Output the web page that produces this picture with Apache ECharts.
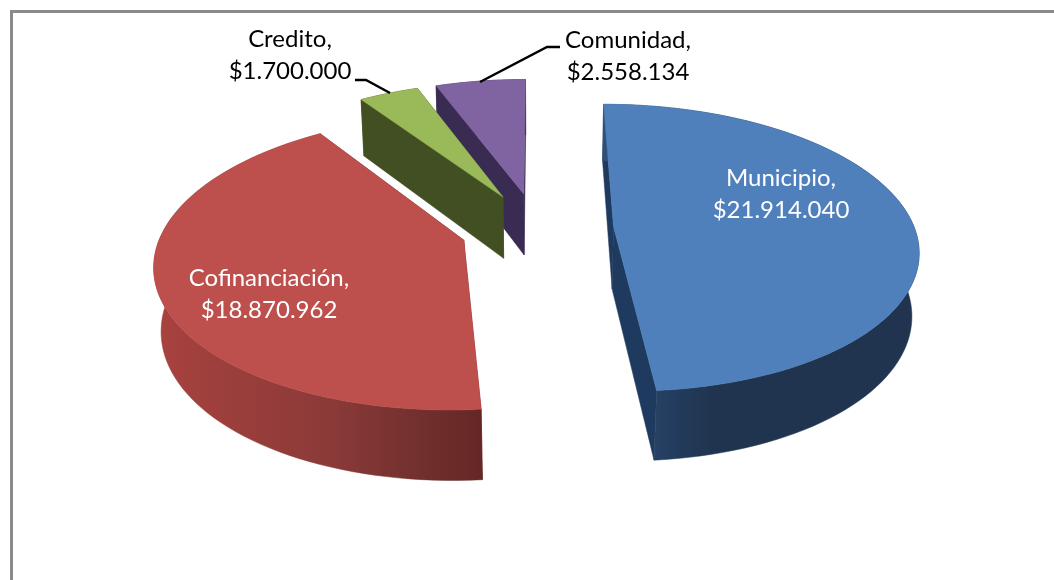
<!DOCTYPE html>
<html><head><meta charset="utf-8">
<style>html,body{margin:0;padding:0;background:#fff}#c{width:1054px;height:580px}</style>
<script src="https://cdn.jsdelivr.net/npm/echarts@6/dist/echarts.min.js"></script>
</head><body><div id="c"></div>
<script>
const categories = ['Municipio', 'Cofinanciación', 'Credito', 'Comunidad'];
const seriesValues = [21914040, 18870962, 1700000, 2558134];

const topColors = ['#4f80bb', '#bd4f4c', '#9aba59', '#8064a2'];
const cutColors = ['#1e3a5e', '#6e2a28', '#414f23', '#3a2b52'];
const wallStops = [
  [[0, '#2f5079'], [0.2, '#243e60'], [0.35, '#20344f'], [1, '#20344f']],
  [[0, '#a8423f'], [0.55, '#8a3a38'], [0.8, '#72302e'], [1, '#652725']],
  [[0, '#414f23'], [1, '#414f23']],
  [[0, '#3a2b52'], [1, '#3a2b52']]
];
const drawOrder = [1, 0, 3, 2];
const labelColors = ['#ffffff', '#ffffff', '#000000', '#000000'];
const labelCenters = [[781, 194], [269, 294], [290, 55], [628, 56]];
const leaders = [null, null, [[355, 80], [366, 80], [390, 93]], [[560, 47], [547, 47], [480, 82]]];

const CAM = { cx: 537, cy: 228, f: 1790, d: 5.95, pitch: 27.9 * Math.PI / 180 };
const EXPLODE = 0.255, HEIGHT = 0.24, STEP = 2;
const sinP = Math.sin(CAM.pitch), cosP = Math.cos(CAM.pitch);
const total = seriesValues.reduce((a, b) => a + b, 0);

function project(X, Z, H) {
  const depth = CAM.d - Z * cosP - H * sinP;
  return [CAM.cx + CAM.f * X / depth, CAM.cy + CAM.f * (Z * sinP - H * cosP) / depth];
}
function fmt(v) { return '$' + String(v).replace(/\B(?=(\d{3})+$)/g, '.'); }

function renderItem(params, api) {
  const i = params.dataIndex;
  const value = api.value(0);
  let before = 0;
  for (let k = 0; k < i; k++) before += seriesValues[k];
  const a0 = before / total * 2 * Math.PI, a1 = (before + value) / total * 2 * Math.PI;
  const mid = (a0 + a1) / 2;
  const ox = EXPLODE * Math.sin(mid), oz = -EXPLODE * Math.cos(mid);
  const rim = (a, H) => project(ox + Math.sin(a), oz - Math.cos(a), H);
  const apex = H => project(ox, oz, H);
  const n = Math.max(2, Math.ceil((a1 - a0) / (STEP * Math.PI / 180)));
  const arc = [], arcB = [];
  for (let k = 0; k <= n; k++) {
    const a = a0 + (a1 - a0) * k / n;
    arc.push(rim(a, 0));
    arcB.push(rim(a, -HEIGHT));
  }
  const xs = arc.concat(arcB).map(p => p[0]);
  const wallFill = new echarts.graphic.LinearGradient(Math.min(...xs), 0, Math.max(...xs), 0,
    wallStops[i].map(s => ({ offset: s[0], color: s[1] })), true);
  const base = drawOrder.indexOf(i) * 10;
  const poly = (points, fill, z2) => ({ type: 'polygon', z2, shape: { points }, style: { fill, stroke: fill, lineWidth: 0.5 } });
  const children = [
    poly([apex(0), arc[0], arcB[0], apex(-HEIGHT)], cutColors[i], base + 1),
    poly([apex(0), arc[n], arcB[n], apex(-HEIGHT)], cutColors[i], base + 2),
    poly(arc.concat(arcB.slice().reverse()), wallFill, base + 3),
    poly([apex(0)].concat(arc), topColors[i], base + 4)
  ];
  if (leaders[i]) children.push({ type: 'polyline', z2: 100, shape: { points: leaders[i] }, style: { fill: 'none', stroke: '#000', lineWidth: 2.5 } });
  children.push({
    type: 'text', z2: 101, x: labelCenters[i][0], y: labelCenters[i][1],
    style: { text: categories[i] + ',\n' + fmt(value), fill: labelColors[i], font: '24px Lato', lineHeight: 32, align: 'center', verticalAlign: 'middle' }
  });
  return { type: 'group', children };
}

const chart = echarts.init(document.getElementById('c'));
chart.setOption({
  animation: false,
  backgroundColor: '#fff',
  graphic: [
    { type: 'rect', shape: { x: 10, y: 10, width: 1044, height: 3 }, style: { fill: '#8a8a8a' } },
    { type: 'rect', shape: { x: 10, y: 10, width: 3, height: 570 }, style: { fill: '#8a8a8a' } }
  ],
  series: [{
    type: 'custom', coordinateSystem: 'none', renderItem,
    data: seriesValues.map((v, i) => ({ name: categories[i], value: [v] }))
  }]
});
</script></body></html>
